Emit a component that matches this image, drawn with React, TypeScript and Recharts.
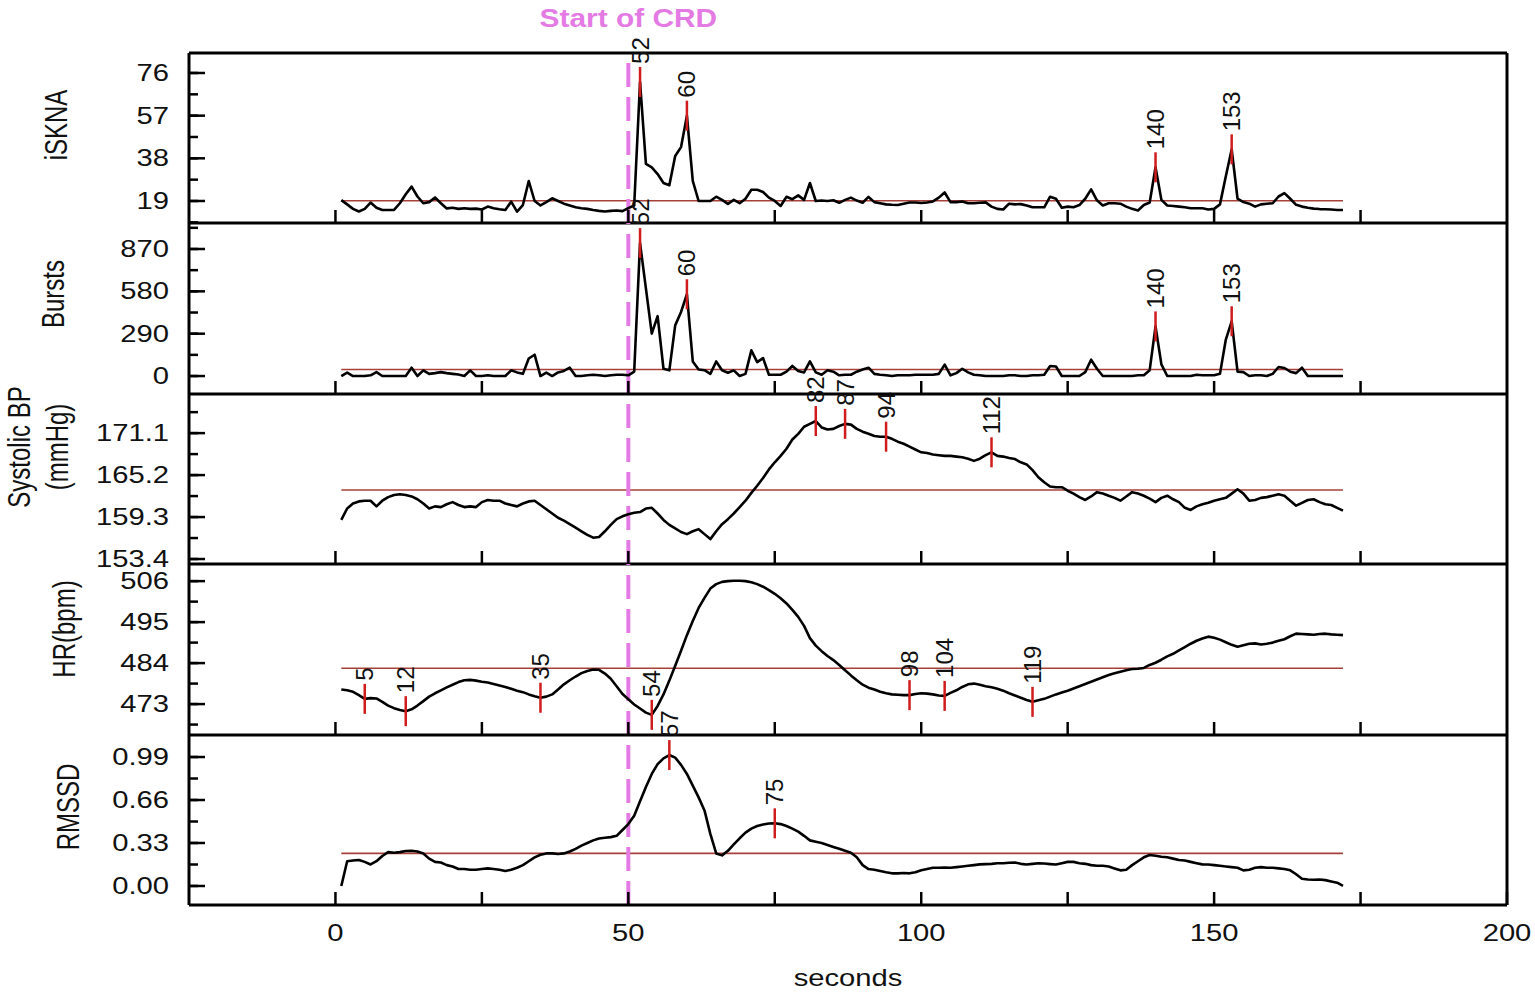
import { ComposedChart, Line, XAxis, YAxis, ReferenceLine } from 'recharts'

// one sample per second, 1..172 s
const seconds = Array.from({ length: 172 }, (_, i) => i + 1)

const iskna = [
  19.4, 17.5, 15.5, 14.3, 15.5, 18.3, 16, 15, 15, 15,
  18, 22, 25.4, 21, 18, 18.5, 20.6, 18, 15.7, 16,
  15.5, 15.8, 15.5, 15.6, 15.2, 16.5, 15.8, 15.3, 15, 18.7,
  14.3, 17.2, 27.9, 19, 17, 18.5, 20.2, 19, 17.8, 17,
  16.2, 15.8, 15.5, 15, 14.6, 14.3, 14.6, 14.8, 14.5, 15.8,
  17, 72, 35.5, 34, 31, 27, 26, 39, 43, 57,
  28, 19, 19, 19, 20.9, 19.5, 17.7, 19.5, 18, 20,
  24, 24, 23, 20.5, 19, 16.8, 20.9, 19.8, 21.5, 19.5,
  27, 19, 19.2, 19, 19.3, 18.2, 19.5, 20.5, 19.2, 18.2,
  20.8, 18.5, 18, 17.5, 17.3, 17.2, 17.8, 18.3, 18.3, 18.1,
  18.3, 18.8, 20.5, 22.8, 18.5, 18.5, 18.8, 18, 18, 18.2,
  18.4, 16.5, 15.5, 15.2, 17.8, 17.5, 17.6, 17, 16.2, 16.2,
  16.2, 20.9, 20, 16, 16.5, 16.2, 17.2, 20, 24.2, 19.3,
  17, 18, 18, 17.8, 16.5, 15.5, 14.8, 17.2, 18.3, 34,
  19.5, 17, 16.8, 16.5, 16.2, 15.8, 15.8, 15.8, 15.2, 15.5,
  17.5, 30, 42, 20, 18.5, 17.8, 16.5, 17.5, 17.8, 18,
  21, 22.5, 20, 17.3, 16.5, 16, 15.6, 15.4, 15.3, 15.2,
  15, 15,
]

const bursts = [
  0, 23, 0, 0, 0, 5, 27, 0, 0, 0,
  0, 0, 57, 0, 39, 15, 20, 27, 20, 15,
  10, 0, 39, 0, 0, 5, 0, 0, 0, 39,
  25, 15, 120, 146, 0, 23, 0, 25, 35, 57,
  0, 0, 5, 9, 5, 0, 5, 9, 9, 5,
  30, 910, 600, 290, 410, 50, 39, 347, 439, 560,
  100, 45, 40, 15, 100, 40, 23, 39, 0, 15,
  176, 95, 123, 9, 9, 9, 30, 69, 35, 25,
  100, 25, 9, 40, 30, 5, 9, 9, 30, 45,
  57, 15, 9, 5, 0, 5, 5, 5, 9, 9,
  9, 9, 15, 78, 5, 20, 50, 25, 9, 5,
  0, 0, 0, 0, 5, 5, 0, 0, 5, 5,
  9, 69, 65, 0, 0, 0, 0, 27, 112, 50,
  0, 0, 0, 0, 0, 0, 5, 5, 40, 340,
  80, 0, 0, 0, 0, 0, 9, 5, 5, 5,
  15, 250, 375, 30, 27, 0, 5, 5, 0, 15,
  62, 55, 30, 20, 57, 0, 0, 0, 0, 0,
  0, 0,
]

const systolicBp = [
  158.9, 160.5, 161.2, 161.5, 161.6, 161.6, 160.8, 161.6, 162.1, 162.4,
  162.5, 162.4, 162.2, 161.8, 161.2, 160.5, 160.8, 160.7, 161.1, 161.4,
  161.0, 160.7, 160.8, 160.7, 161.4, 161.7, 161.6, 161.6, 161.2, 161.0,
  160.8, 161.2, 161.5, 161.6, 161.0, 160.4, 159.8, 159.2, 158.8, 158.3,
  157.8, 157.3, 156.8, 156.4, 156.5, 157.3, 158.2, 159.0, 159.4, 159.7,
  159.9, 160.0, 160.5, 160.6, 159.8, 158.9, 158.2, 157.7, 157.2, 156.9,
  157.3, 157.6, 156.9, 156.2, 157.3, 158.3, 159.0, 159.8, 160.7, 161.6,
  162.7, 163.7, 164.8, 166.0, 167.0, 167.9, 168.9, 170.2, 171.0, 172.0,
  172.4, 172.8, 171.9, 171.6, 171.7, 172.1, 172.4, 172.3, 171.7, 171.3,
  171.0, 170.7, 170.6, 170.6, 170.3, 169.9, 169.6, 169.2, 168.8, 168.4,
  168.3, 168.1, 168.0, 167.9, 167.9, 167.8, 167.7, 167.5, 167.2, 167.5,
  168.0, 168.4, 167.9, 167.8, 167.6, 167.45, 167.0, 166.7, 165.9, 164.9,
  164.2, 163.6, 163.5, 163.5, 163.0, 162.6, 162.1, 161.7, 162.2, 162.8,
  162.6, 162.3, 162.0, 161.6, 162.2, 162.8, 162.6, 162.3, 161.9, 161.4,
  162.0, 162.3, 161.8, 161.4, 160.6, 160.3, 160.8, 161.1, 161.3, 161.6,
  161.8, 162.0, 162.6, 163.2, 162.6, 161.6, 161.7, 162.0, 162.1, 162.3,
  162.5, 162.3, 161.6, 160.9, 161.3, 161.7, 161.8, 161.4, 161.1, 161.0,
  160.6, 160.2,
]

const heartRate = [
  476.9, 476.7, 476.3, 475.4, 474.4, 474.6, 474.5, 473.6, 472.6, 471.9,
  471.4, 471.1, 471.6, 472.6, 473.8, 475.0, 475.9, 476.7, 477.5, 478.2,
  478.9, 479.4, 479.5, 479.3, 479.0, 478.8, 478.4, 478.0, 477.6, 477.1,
  476.6, 476.2, 475.6, 475.1, 474.7, 475.0, 475.6, 476.9, 478.3, 479.4,
  480.4, 481.3, 481.9, 482.3, 482.2, 481.2, 479.8, 477.8, 475.7, 474.3,
  472.9, 471.8, 470.7, 470.1, 472.5, 475.6, 479.3, 483.3, 487.3, 491.5,
  495.3, 498.8, 501.5, 504.0, 505.2, 505.8, 506.0, 506.1, 506.1, 506.0,
  505.7, 505.2, 504.5, 503.6, 502.6, 501.4, 500.0, 498.3, 496.4, 494.0,
  490.7, 488.7, 487.2, 485.9, 484.8, 483.5, 482.1, 480.7, 479.4, 478.2,
  477.4, 476.9, 476.3, 475.9, 475.6, 475.5, 475.4, 475.4, 475.7, 475.9,
  475.8, 475.6, 475.3, 475.2, 476.0, 476.7, 477.6, 478.3, 478.5, 478.2,
  477.8, 477.5, 477.1, 476.6, 475.9, 475.3, 474.7, 474.1, 473.6, 474.0,
  474.4, 475.0, 475.6, 476.1, 476.6, 477.2, 477.8, 478.4, 479.0, 479.6,
  480.2, 480.8, 481.3, 481.7, 482.1, 482.4, 482.5, 482.7, 483.5, 484.1,
  484.9, 485.8, 486.5, 487.4, 488.3, 489.2, 490.0, 490.6, 491.1, 490.8,
  490.3, 489.6, 488.9, 488.4, 488.8, 489.2, 489.3, 489.0, 489.2, 489.5,
  490.0, 490.4, 491.2, 491.9, 491.8, 491.7, 491.6, 491.8, 491.9, 491.7,
  491.6, 491.5,
]

const rmssd = [
  0.0, 0.19, 0.195, 0.2, 0.185, 0.165, 0.19, 0.23, 0.26, 0.255,
  0.26, 0.268, 0.27, 0.265, 0.25, 0.21, 0.185, 0.18, 0.16, 0.15,
  0.13, 0.13, 0.125, 0.125, 0.13, 0.135, 0.13, 0.125, 0.115, 0.125,
  0.14, 0.16, 0.19, 0.22, 0.24, 0.25, 0.25, 0.245, 0.25, 0.265,
  0.285, 0.31, 0.33, 0.35, 0.365, 0.37, 0.375, 0.385, 0.43, 0.475,
  0.54, 0.65, 0.76, 0.86, 0.935, 0.98, 1.005, 0.985, 0.93, 0.86,
  0.77, 0.68, 0.58, 0.4, 0.25, 0.235, 0.27, 0.32, 0.366, 0.41,
  0.44, 0.46, 0.472, 0.48, 0.481, 0.475, 0.46, 0.44, 0.417, 0.385,
  0.35, 0.34, 0.33, 0.315, 0.3, 0.285, 0.27, 0.255, 0.22, 0.16,
  0.13, 0.125, 0.115, 0.105, 0.097, 0.097, 0.1, 0.097, 0.105, 0.12,
  0.13, 0.14, 0.14, 0.142, 0.14, 0.145, 0.15, 0.155, 0.16, 0.166,
  0.168, 0.17, 0.174, 0.174, 0.178, 0.18, 0.17, 0.165, 0.17, 0.175,
  0.172, 0.168, 0.165, 0.175, 0.185, 0.185, 0.175, 0.17, 0.16, 0.155,
  0.155, 0.15, 0.135, 0.12, 0.125, 0.16, 0.19, 0.22, 0.238, 0.232,
  0.225, 0.22, 0.21, 0.2, 0.195, 0.185, 0.175, 0.166, 0.165, 0.16,
  0.155, 0.15, 0.145, 0.14, 0.12, 0.125, 0.14, 0.145, 0.14, 0.14,
  0.135, 0.13, 0.12, 0.09, 0.055, 0.05, 0.048, 0.05, 0.045, 0.035,
  0.025, 0.0,
]

// baseline (mean) levels drawn as the thin red line
const isknaMean = 19.1
const burstsMean = 45
const bpMean = 163.1
const hrMean = 482.6
const rmssdMean = 0.25

// labelled y ticks and the unlabelled ones in between
const isknaTicks = [19, 38, 57, 76]
const isknaMinor = [9.5, 28.5, 47.5, 66.5]
const burstsTicks = [0, 290, 580, 870]
const burstsMinor = [145, 435, 725, 1015]
const bpTicks = [153.4, 159.3, 165.2, 171.1]
const bpMinor = [156.35, 162.25, 168.15, 174.05]
const hrTicks = [473, 484, 495, 506]
const hrMinor = [467.5, 478.5, 489.5, 500.5]
const rmssdTicks = [0, 0.33, 0.66, 0.99]
const rmssdMinor = [0.165, 0.495, 0.825]

const timeTicks = [0, 25, 50, 75, 100, 125, 150, 175]
const timeLabels = [0, 50, 100, 150, 200]

// annotated seconds per panel
const isknaPeaks = [52, 60, 140, 153]
const burstsPeaks = [52, 60, 140, 153]
const bpPeaks = [82, 87, 94, 112]
const hrPeaks = [5, 12, 35, 54, 98, 104, 119]
const rmssdPeaks = [57, 75]

const CRD_START = 50

const PAGE_W = 1535
const LEFT_W = 189
const RIGHT_W = 28
const BOTTOM_H = 91
const FONT = '"Liberation Sans", Arial, Helvetica, sans-serif'
const STRETCH = 1.27
const RED = '#d01c1c'
const MEAN_RED = '#a8403a'
const MAGENTA = '#e47be4'
const AXIS_LINE = { stroke: '#000', strokeWidth: 3 }
const TICK_LINE = { stroke: '#000', strokeWidth: 2.5 }
const Y_TICK = 9
const Y_MARGIN = 29

const isMember = (list: number[], v: number) => list.some((m) => Math.abs(m - v) < 1e-6)

// label (left side) plus a longer mark for the labelled ticks
function YTick(props: any) {
  const { x, y, payload, major, side, digits } = props
  const big = isMember(major, payload.value)
  const ax = side === 'left' ? x + Y_MARGIN - Y_TICK : x - Y_MARGIN + Y_TICK
  const dir = side === 'left' ? 1 : -1
  return (
    <g>
      {big && <line x1={ax} x2={ax + dir * 16} y1={y} y2={y} stroke="#000" strokeWidth={2.5} />}
      {side === 'left' && big && (
        <text
          transform={`translate(${x},${y}) scale(${STRETCH},1)`}
          textAnchor="end"
          dominantBaseline="central"
          fontSize={23}
          fontFamily={FONT}
          fill="#111"
        >
          {payload.value.toFixed(digits)}
        </text>
      )}
    </g>
  )
}

function XTick(props: any) {
  const { x, y, payload, showLabel } = props
  if (!showLabel || !timeLabels.includes(payload.value)) return <g />
  return (
    <text
      transform={`translate(${x},${y}) scale(${STRETCH},1)`}
      textAnchor="middle"
      dominantBaseline="central"
      fontSize={23}
      fontFamily={FONT}
      fill="#111"
    >
      {payload.value}
    </text>
  )
}

const peakDot = (peaks: number[]) => (p: any) => {
  const { cx, cy, payload, index } = p
  if (!payload || !peaks.includes(payload.t)) return <g key={`d${index}`} />
  return (
    <g key={`d${index}`}>
      <line x1={cx} x2={cx} y1={cy - 15} y2={cy + 15} stroke={RED} strokeWidth={2.5} />
      <text
        transform={`translate(${cx},${cy - 18}) rotate(-90)`}
        textAnchor="start"
        dominantBaseline="central"
        fontSize={24}
        fontFamily={FONT}
        fill="#111"
      >
        {payload.t}
      </text>
    </g>
  )
}

type PanelProps = {
  values: number[]
  mean: number
  domain: [number, number]
  major: number[]
  minor: number[]
  digits: number
  peaks: number[]
  title: string[]
  titleX: number[]
  titleY: number
  top: number
  height: number
  first?: boolean
  last?: boolean
}

function Panel(p: PanelProps) {
  const rows = seconds.map((t, i) => ({ t, v: p.values[i] }))
  const yTicks = [...p.major, ...p.minor].sort((a, b) => a - b)
  const bottomH = p.last ? BOTTOM_H : 1
  const topH = p.first ? 1 : 0
  const chartH = p.height + bottomH + topH

  const titleContent = (lp: any) => {
    const vb = lp.viewBox ?? { x: 0, y: 0 }
    return (
      <g>
        {p.title.map((line, i) => (
          <text
            key={line}
            transform={`translate(${vb.x + p.titleX[i]},${vb.y + p.titleY}) scale(${STRETCH},1) rotate(-90)`}
            textAnchor="middle"
            dominantBaseline="central"
            fontSize={24}
            fontFamily={FONT}
            fill="#111"
          >
            {line}
          </text>
        ))}
      </g>
    )
  }

  const secondsContent = (lp: any) => {
    const vb = lp.viewBox ?? { x: 0, y: 0, width: 0 }
    return (
      <text
        transform={`translate(${vb.x + vb.width / 2},${vb.y + 73}) scale(${STRETCH},1)`}
        textAnchor="middle"
        dominantBaseline="central"
        fontSize={23}
        fontFamily={FONT}
        fill="#111"
      >
        seconds
      </text>
    )
  }

  const crdContent = (lp: any) => {
    const vb = lp.viewBox ?? { x: 0, y: 0 }
    return (
      <text
        transform={`translate(${vb.x},${vb.y - 35}) scale(1.15,1)`}
        textAnchor="middle"
        dominantBaseline="central"
        fontSize={26}
        fontWeight="bold"
        fontFamily={FONT}
        fill={MAGENTA}
      >
        Start of CRD
      </text>
    )
  }

  return (
    <div style={{ position: 'absolute', left: 0, top: p.top - topH }}>
      <ComposedChart width={PAGE_W} height={chartH} data={rows} margin={{ top: 0, right: 0, bottom: 0, left: 0 }}>
        <XAxis
          xAxisId="b"
          dataKey="t"
          type="number"
          domain={[-25, 200]}
          ticks={p.last ? [...timeTicks, 200] : timeTicks}
          interval={0}
          height={bottomH}
          tickSize={-13}
          tickMargin={41}
          tickLine={TICK_LINE}
          axisLine={AXIS_LINE}
          tick={(t: any) => <XTick {...t} showLabel={!!p.last} />}
          label={p.last ? { content: secondsContent } : undefined}
        />
        {p.first && (
          <XAxis
            xAxisId="t"
            orientation="top"
            type="number"
            domain={[-25, 200]}
            ticks={timeTicks}
            interval={0}
            height={topH}
            tickSize={-9}
            tickLine={TICK_LINE}
            axisLine={AXIS_LINE}
            tick={false}
          />
        )}
        <YAxis
          yAxisId="l"
          type="number"
          domain={p.domain}
          ticks={yTicks}
          interval={0}
          width={LEFT_W}
          tickSize={-Y_TICK}
          tickMargin={Y_MARGIN}
          tickLine={TICK_LINE}
          axisLine={AXIS_LINE}
          tick={(t: any) => <YTick {...t} side="left" major={p.major} digits={p.digits} />}
          label={{ content: titleContent }}
        />
        <YAxis
          yAxisId="r"
          orientation="right"
          type="number"
          domain={p.domain}
          ticks={yTicks}
          interval={0}
          width={RIGHT_W}
          tickSize={-Y_TICK}
          tickMargin={Y_MARGIN}
          tickLine={TICK_LINE}
          axisLine={AXIS_LINE}
          tick={(t: any) => <YTick {...t} side="right" major={p.major} digits={p.digits} />}
        />
        <ReferenceLine
          xAxisId="b"
          yAxisId="l"
          segment={[
            { x: seconds[0], y: p.mean },
            { x: seconds[seconds.length - 1], y: p.mean },
          ]}
          stroke={MEAN_RED}
          strokeWidth={1.6}
        />
        <ReferenceLine
          xAxisId="b"
          yAxisId="l"
          x={CRD_START}
          stroke={MAGENTA}
          strokeWidth={4}
          strokeDasharray="24 10"
          label={p.first ? { content: crdContent } : undefined}
        />
        <Line
          xAxisId="b"
          yAxisId="l"
          dataKey="v"
          type="linear"
          stroke="#000"
          strokeWidth={2.6}
          strokeLinejoin="round"
          dot={peakDot(p.peaks)}
          activeDot={false}
          isAnimationActive={false}
        />
      </ComposedChart>
    </div>
  )
}

export default function App() {
  return (
    <div style={{ position: 'relative', width: PAGE_W, height: 996, background: '#fff', overflow: 'hidden' }}>
      <style>{'body{margin:0} svg.recharts-surface{overflow:visible}'}</style>
      <Panel
        values={iskna}
        mean={isknaMean}
        domain={[9.2, 84.9]}
        major={isknaTicks}
        minor={isknaMinor}
        digits={0}
        peaks={isknaPeaks}
        title={['iSKNA']}
        titleX={[56]}
        titleY={72}
        top={53}
        height={170}
        first
      />
      <Panel
        values={bursts}
        mean={burstsMean}
        domain={[-123, 1048]}
        major={burstsTicks}
        minor={burstsMinor}
        digits={0}
        peaks={burstsPeaks}
        title={['Bursts']}
        titleX={[53]}
        titleY={71}
        top={223}
        height={171}
      />
      <Panel
        values={systolicBp}
        mean={bpMean}
        domain={[152.7, 176.6]}
        major={bpTicks}
        minor={bpMinor}
        digits={1}
        peaks={bpPeaks}
        title={['Systolic BP', '(mmHg)']}
        titleX={[19, 57]}
        titleY={53}
        top={394}
        height={170}
      />
      <Panel
        values={heartRate}
        mean={hrMean}
        domain={[464.7, 510.6]}
        major={hrTicks}
        minor={hrMinor}
        digits={0}
        peaks={hrPeaks}
        title={['HR(bpm)']}
        titleX={[64]}
        titleY={65}
        top={564}
        height={171}
      />
      <Panel
        values={rmssd}
        mean={rmssdMean}
        domain={[-0.146, 1.159]}
        major={rmssdTicks}
        minor={rmssdMinor}
        digits={2}
        peaks={rmssdPeaks}
        title={['RMSSD']}
        titleX={[68]}
        titleY={72}
        top={735}
        height={170}
        last
      />
    </div>
  )
}
